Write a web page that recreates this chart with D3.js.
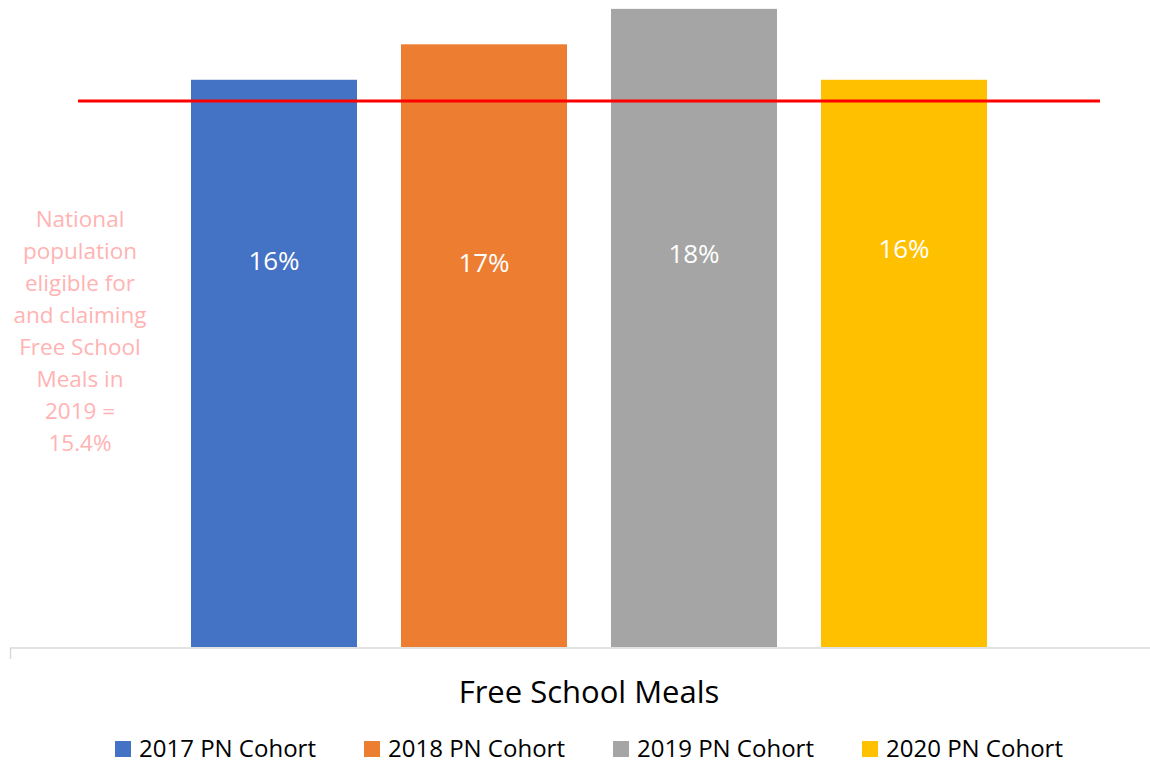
<!DOCTYPE html>
<html>
<head>
<meta charset="utf-8">
<script src="https://cdn.jsdelivr.net/npm/d3@7"></script>
<style>
  html, body { margin: 0; padding: 0; background: #fff; }
  svg { display: block; font-family: "Open Sans", "Noto Sans", sans-serif; }
</style>
</head>
<body>
<svg id="chart" width="1150" height="764"></svg>
<script>
// Chart data
const category = "Free School Meals";
const seriesNames = ["2017 PN Cohort", "2018 PN Cohort", "2019 PN Cohort", "2020 PN Cohort"];
const seriesValues = [16, 17, 18, 16];          // percent
const seriesColors = ["#4472C4", "#ED7D31", "#A5A5A5", "#FFC000"];
const nationalRate = 15.4;                       // percent, reference line
const noteLines = ["National", "population", "eligible for", "and claiming", "Free School", "Meals in", "2019 =", "15.4%"];

// Layout
const W = 1150, H = 764;
const baseY = 647;
const labelBaselines = [270, 272, 263, 258];

const svg = d3.select("#chart");

const y = d3.scaleLinear().domain([0, 18.25]).range([baseY, 0]);
const x = d3.scaleBand()
  .domain(seriesNames)
  .range([191, 987])
  .paddingInner(44 / 210)
  .paddingOuter(0);

// Bars
svg.append("g").selectAll("rect")
  .data(seriesNames)
  .join("rect")
  .attr("x", d => x(d))
  .attr("width", x.bandwidth())
  .attr("y", (d, i) => y(seriesValues[i]))
  .attr("height", (d, i) => baseY - y(seriesValues[i]))
  .attr("fill", (d, i) => seriesColors[i]);

// Category axis
svg.append("line")
  .attr("x1", 10).attr("x2", W)
  .attr("y1", baseY + 1).attr("y2", baseY + 1)
  .attr("stroke", "#D9D9D9").attr("stroke-width", 1.5);
svg.append("line")
  .attr("x1", 10.5).attr("x2", 10.5)
  .attr("y1", baseY + 1).attr("y2", baseY + 12)
  .attr("stroke", "#D9D9D9").attr("stroke-width", 1.5);

// Data labels
svg.append("g").selectAll("text")
  .data(seriesNames)
  .join("text")
  .attr("x", d => x(d) + x.bandwidth() / 2)
  .attr("y", (d, i) => labelBaselines[i])
  .attr("text-anchor", "middle")
  .attr("fill", "#FFFFFF")
  .attr("font-size", 26)
  .text((d, i) => d3.format(".0f")(seriesValues[i]) + "%");

// National reference line
svg.append("line")
  .attr("x1", 78).attr("x2", 1100)
  .attr("y1", y(nationalRate)).attr("y2", y(nationalRate))
  .attr("stroke", "#FF0000").attr("stroke-width", 3);

// Note text
svg.append("text")
  .attr("text-anchor", "middle")
  .attr("fill", "#FFB3B3")
  .attr("font-size", 22.5)
  .selectAll("tspan")
  .data(noteLines)
  .join("tspan")
  .attr("x", 80)
  .attr("y", (d, i) => 227 + i * 32)
  .text(d => d);

// Axis title
svg.append("text")
  .attr("x", (x.range()[0] + x.range()[1]) / 2)
  .attr("y", 703)
  .attr("text-anchor", "middle")
  .attr("fill", "#000")
  .attr("font-size", 31)
  .text(category);

// Legend
const legend = svg.append("g").selectAll("g")
  .data(seriesNames)
  .join("g")
  .attr("transform", (d, i) => `translate(${115 + i * 249},741)`);
legend.append("rect")
  .attr("width", 16).attr("height", 16)
  .attr("fill", (d, i) => seriesColors[i]);
legend.append("text")
  .attr("x", 24).attr("y", 16)
  .attr("fill", "#000")
  .attr("font-size", 24)
  .text(d => d);
</script>
</body>
</html>
